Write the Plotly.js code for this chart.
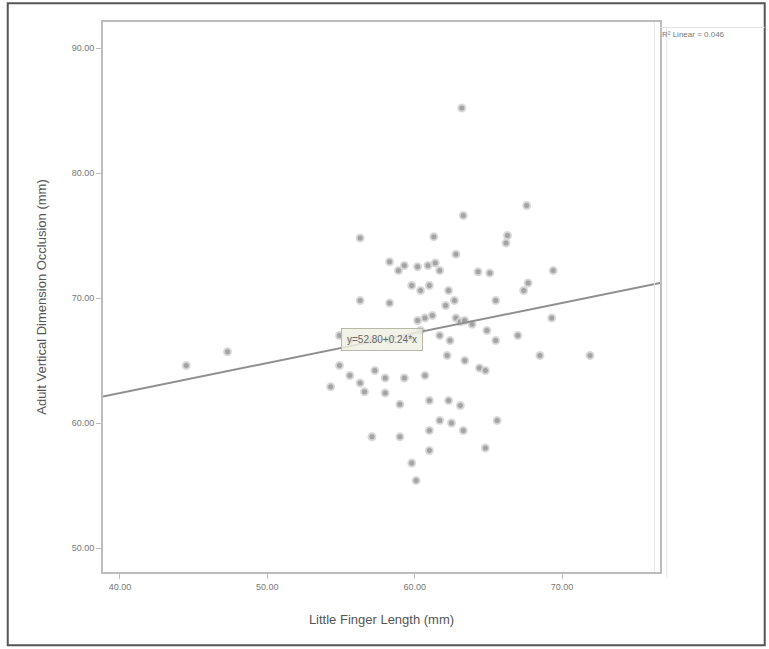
<!DOCTYPE html>
<html>
<head>
<meta charset="utf-8">
<script src="https://cdn.plot.ly/plotly-3.0.1.min.js"></script>
<style>
html,body{margin:0;padding:0;background:#fff;}
#chart{width:769px;height:649px;}
</style>
</head>
<body>
<div id="chart"></div>
<script>
// Little finger length (mm)
const fingerLength = [
  63.2, 63.3, 67.6, 56.3, 61.3, 66.3, 66.2, 69.4, 58.3, 58.9,
  59.3, 60.2, 60.9, 61.4, 61.7, 62.8, 64.3, 65.1, 67.4, 67.7,
  56.3, 58.3, 59.8, 60.4, 61.0, 62.3, 62.7, 62.1, 65.5, 60.2,
  60.7, 61.2, 62.8, 63.1, 63.4, 63.9, 64.9, 65.5, 67.0, 69.3,
  68.5, 71.9, 47.3, 44.5, 54.9, 55.6, 57.0, 58.3, 59.7, 60.4,
  61.7, 62.4, 62.2, 63.4, 64.4, 64.8, 54.9, 55.6, 56.3, 57.3,
  58.0, 59.3, 60.7, 54.3, 56.6, 58.0, 59.0, 61.0, 62.3, 63.1,
  65.6, 57.1, 59.0, 61.0, 61.7, 62.5, 63.3, 64.8, 61.0, 59.8,
  60.1
];
// Adult vertical dimension occlusion
const verticalDimension = [
  85.2, 76.6, 77.4, 74.8, 74.9, 75.0, 74.4, 72.2, 72.9, 72.2,
  72.6, 72.5, 72.6, 72.8, 72.2, 73.5, 72.1, 72.0, 70.6, 71.2,
  69.8, 69.6, 71.0, 70.6, 71.0, 70.6, 69.8, 69.4, 69.8, 68.2,
  68.4, 68.6, 68.4, 68.1, 68.2, 67.9, 67.4, 66.6, 67.0, 68.4,
  65.4, 65.4, 65.7, 64.6, 67.0, 66.6, 66.6, 66.6, 66.8, 67.4,
  67.0, 66.6, 65.4, 65.0, 64.4, 64.2, 64.6, 63.8, 63.2, 64.2,
  63.6, 63.6, 63.8, 62.9, 62.5, 62.4, 61.5, 61.8, 61.8, 61.4,
  60.2, 58.9, 58.9, 59.4, 60.2, 60.0, 59.4, 58.0, 57.8, 56.8,
  55.4
];
// Linear fit
const fitIntercept = 52.8;
const fitSlope = 0.24;
const fitLabel = "y=52.80+0.24*x";
const r2Label = "R\u00b2 Linear = 0.046";
const xTicks = [40, 50, 60, 70];
const yTicks = [50, 60, 70, 80, 90];
const xRange = [38.85, 76.65];
const yRange = [48.08, 92.08];

const fitX = xRange.slice();
const fitY = fitX.map(v => fitIntercept + fitSlope * v);

const axisColor = '#bdbdbd';
const textColor = '#555555';

const traces = [
  {
    x: fingerLength, y: verticalDimension, type: 'scatter', mode: 'markers',
    marker: {size: 7, color: 'rgba(125,125,125,0.7)',
             line: {color: 'rgba(215,215,215,0.9)', width: 2}},
    showlegend: false, hoverinfo: 'x+y'
  },
  {
    x: fitX, y: fitY, type: 'scatter', mode: 'lines',
    line: {color: '#8f8f8f', width: 2},
    showlegend: false, hoverinfo: 'skip'
  }
];

const layout = {
  width: 769, height: 649,
  margin: {l: 103, r: 109, t: 22, b: 77},
  paper_bgcolor: '#ffffff', plot_bgcolor: '#ffffff',
  font: {family: 'Liberation Sans, Arial, sans-serif', color: textColor},
  xaxis: {
    range: xRange, tickvals: xTicks, tickformat: '.2f',
    showgrid: false, zeroline: false,
    showline: true, linecolor: axisColor, linewidth: 2, mirror: true,
    ticks: 'outside', ticklen: 5, tickcolor: axisColor,
    tickfont: {size: 9, color: '#777'},
    title: {text: 'Little Finger Length (mm)', font: {size: 13, color: '#555'}, standoff: 24}
  },
  yaxis: {
    range: yRange, tickvals: yTicks, tickformat: '.2f',
    showgrid: false, zeroline: false,
    showline: true, linecolor: axisColor, linewidth: 2, mirror: true,
    ticks: 'outside', ticklen: 5, tickcolor: axisColor,
    tickfont: {size: 9, color: '#777'},
    title: {text: 'Adult Vertical Dimension Occlusion (mm)', font: {size: 13, color: '#555'}, standoff: 22}
  },
  shapes: [
    {type: 'rect', xref: 'paper', yref: 'paper', x0: -0.171, x1: 1.188, y0: -0.133, y1: 1.034,
     line: {color: '#555', width: 2}},
    {type: 'line', xref: 'paper', yref: 'paper', x0: 0.99, x1: 0.99, y0: 0, y1: 1,
     line: {color: '#e6e6e6', width: 1}},
    {type: 'line', xref: 'paper', yref: 'paper', x0: 1.012, x1: 1.012, y0: -0.01, y1: 0.99,
     line: {color: '#e6e6e6', width: 1}},
    {type: 'line', xref: 'paper', yref: 'paper', x0: 1.0, x1: 1.188, y0: 0.99, y1: 0.99,
     line: {color: '#e0e0e0', width: 1}}
  ],
  annotations: [
    {x: 57.8, y: 66.7, xref: 'x', yref: 'y', text: fitLabel, showarrow: false,
     font: {size: 10, color: '#666'}, bgcolor: 'rgba(240,240,228,0.85)',
     bordercolor: '#b8b8a8', borderwidth: 1, borderpad: 5},
    {x: 1.0, y: 0.978, xref: 'paper', yref: 'paper', xanchor: 'left', yanchor: 'middle',
     text: r2Label, showarrow: false, font: {size: 8, color: '#777'}}
  ]
};

Plotly.newPlot('chart', traces, layout, {displayModeBar: false, staticPlot: true});
</script>
</body>
</html>
